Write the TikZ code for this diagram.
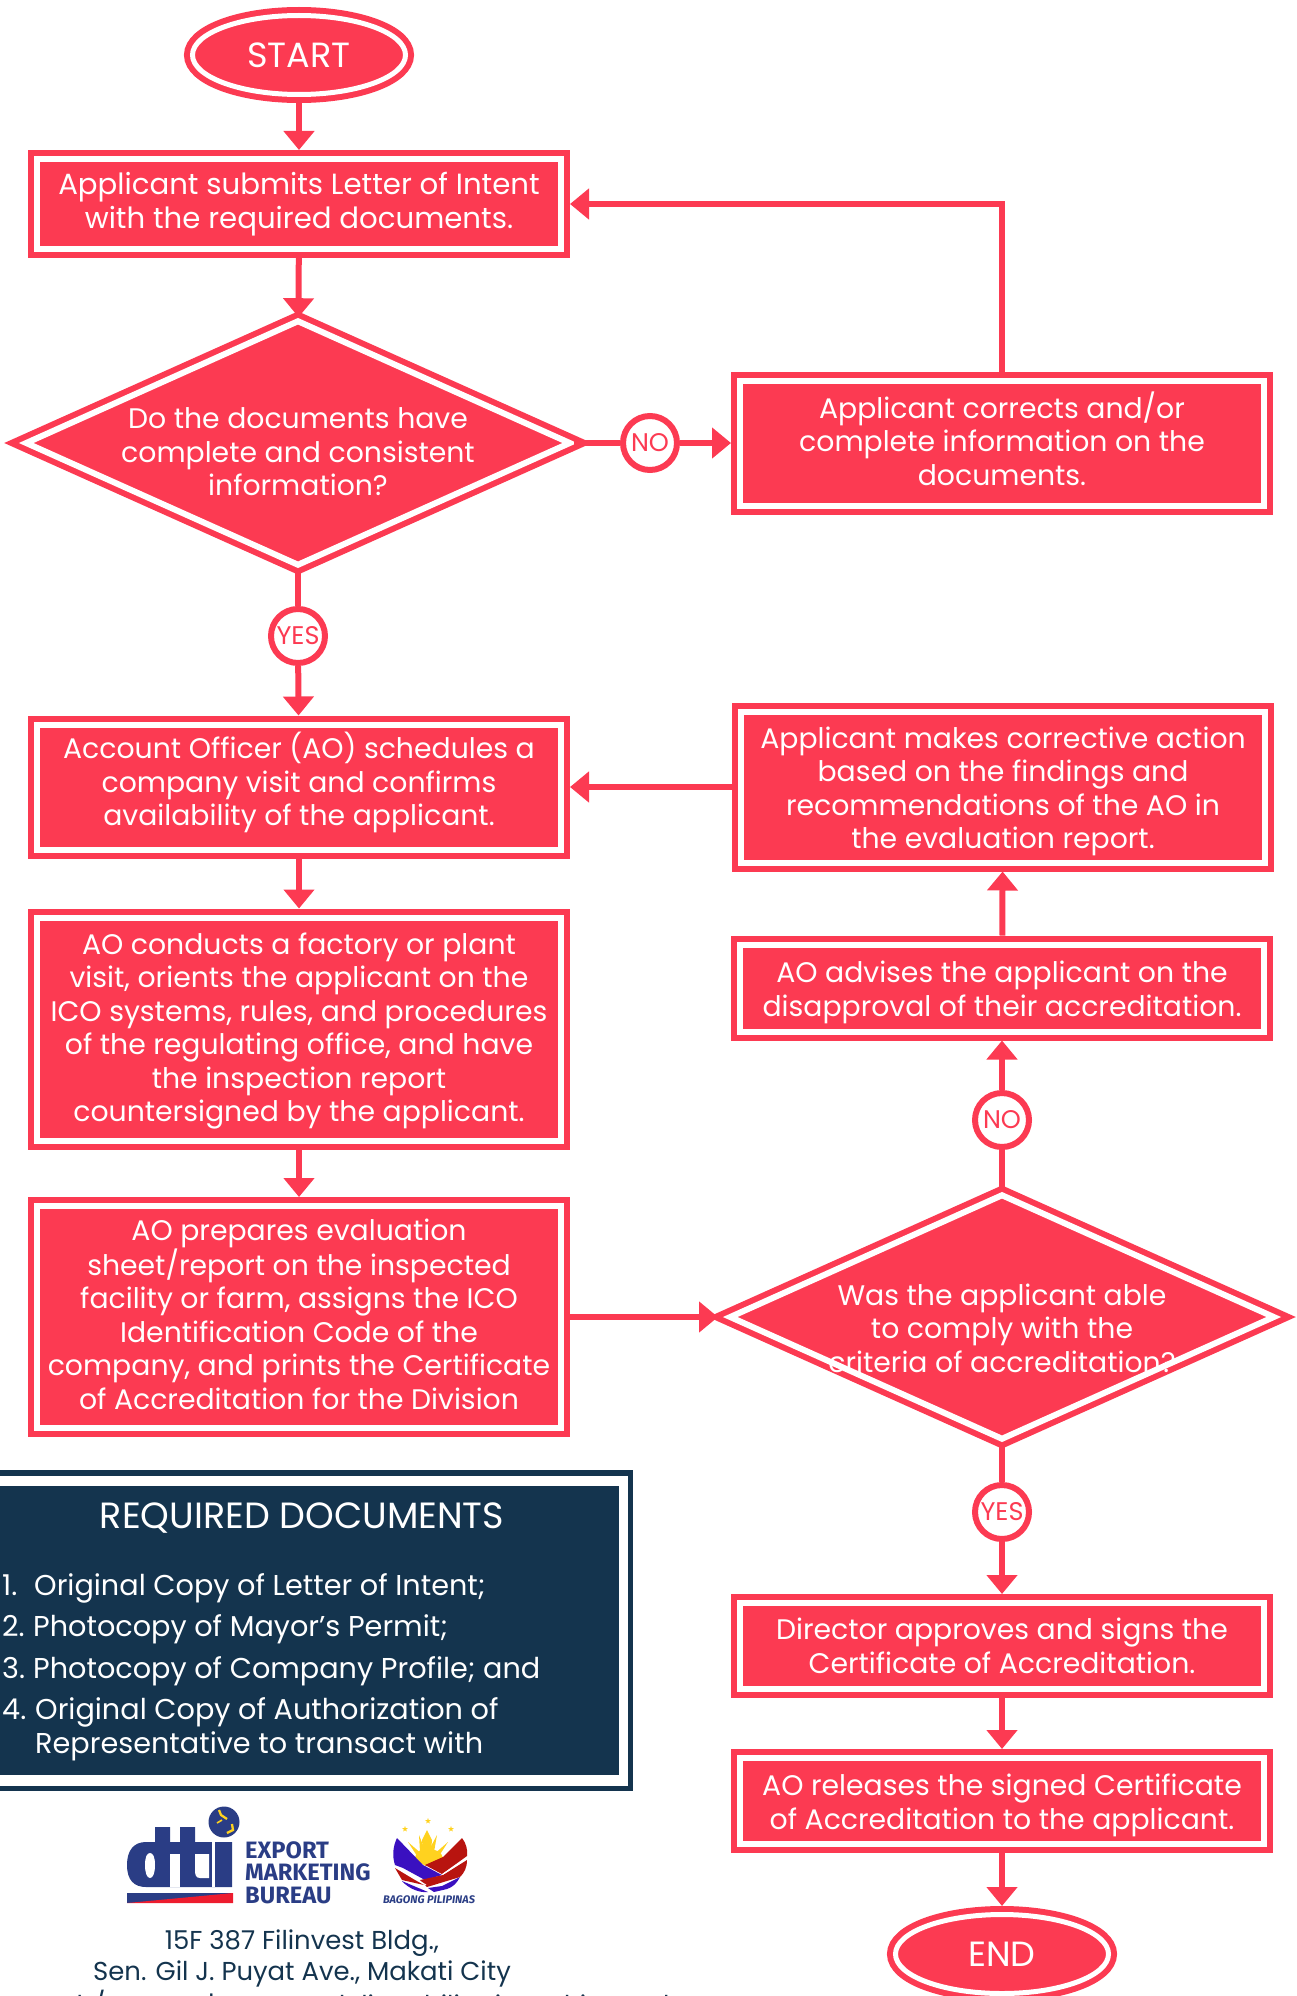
\documentclass[tikz,border=0pt]{standalone}
\usepackage{fontspec}
\setmainfont{Poppins}
\newfontfamily\firabold{Fira Sans}
\usetikzlibrary{shapes.geometric}
\usetikzlibrary{arrows.meta}
\definecolor{rosered}{HTML}{FC3A52}
\definecolor{navybox}{HTML}{14344E}
\definecolor{dtiblue}{HTML}{2A3D85}
\definecolor{dtired}{HTML}{ED1C2E}
\definecolor{sunyellow}{HTML}{FFD21F}
\definecolor{wingblue}{HTML}{3A10C0}
\definecolor{wingred}{HTML}{B8140F}
\newcommand{\liftby}[1]{\rule[-#1]{0pt}{#1}}
\newcommand{\dropby}[1]{\rule{0pt}{#1}}
\tikzset{
	flowtext/.style={text=white, align=center, font=\fontsize{28.3}{33.5}\selectfont},
	stepbox/.style={flowtext, rectangle, draw=rosered, fill=rosered, line width=6pt, double=white, double distance=6pt, outer sep=9pt, inner sep=0pt},
	askdiamond/.style={diamond, draw=rosered, fill=rosered, line width=6pt, double=white, double distance=6pt, outer sep=3pt, inner sep=0pt, minimum width=546pt, minimum height=246pt},
	endcap/.style={flowtext, ellipse, draw=rosered, fill=rosered, line width=6pt, double=white, double distance=5pt, outer sep=8.5pt, inner sep=0pt, minimum width=213pt, minimum height=79pt, font=\fontsize{35}{40}\selectfont},
	answer/.style={circle, draw=rosered, fill=white, text=rosered, line width=6pt, minimum size=54pt, inner sep=0pt, font=\fontsize{25.5}{30}\selectfont},
	flow/.style={draw=rosered, line width=6pt},
	flowarrow/.style={flow, -{Triangle[length=19pt,width=30pt]}},
	doctext/.style={text=white, anchor=base west, inner sep=0pt, font=\fontsize{28.7}{33}\selectfont},
	footer/.style={text=navybox, inner sep=0pt, font=\fontsize{25.9}{30}\selectfont},
	bureau/.style={text=dtiblue, anchor=west, inner sep=0pt, font=\firabold\bfseries\fontsize{23.7}{25}\selectfont}
}
\begin{document}
\begin{tikzpicture}[x=1pt, y=-1pt]
	\useasboundingbox (0,0) rectangle (1296,1996);
	\node[endcap] (start) at (299,55) {START};
	\node[stepbox, font=\fontsize{29.2}{33.5}\selectfont, minimum width=524pt, minimum height=90pt] (submit) at (299,204) {Applicant submits Letter of Intent\\with the required documents.};
	\node[askdiamond, label={[flowtext, name=completetext, yshift=-9pt]center:{Do the documents have\\complete and consistent\\information?}}] (complete) at (298,443) {};
	\node[answer] (no1) at (650,443) {NO};
	\node[stepbox, minimum width=524pt, minimum height=125pt] (corrects) at (1002,443) {Applicant corrects and/or\\complete information on the\\documents.\liftby{9pt}};
	\node[answer] (yes1) at (298,636) {YES};
	\node[stepbox, minimum width=524pt, minimum height=125pt] (visit) at (299,787) {Account Officer (AO) schedules a\\company visit and confirms\\availability of the applicant.\liftby{15.5pt}};
	\node[stepbox, minimum width=524pt, minimum height=223pt] (conducts) at (299,1029) {\dropby{25.5pt}AO conducts a factory or plant\\visit, orients the applicant on the\\ICO systems, rules, and procedures\\of the regulating office, and have\\the inspection report\\countersigned by the applicant.};
	\node[stepbox, minimum width=524pt, minimum height=222pt] (prepares) at (299,1317) {AO prepares evaluation\\sheet/report on the inspected\\facility or farm, assigns the ICO\\Identification Code of the\\company, and prints the Certificate\\of Accreditation for the Division\liftby{6pt}};
	\node[stepbox, minimum width=524pt, minimum height=151pt] (corrective) at (1003,787) {\dropby{30pt}Applicant makes corrective action\\based on the findings and\\recommendations of the AO in\\the evaluation report.};
	\node[stepbox, minimum width=524pt, minimum height=87pt] (advises) at (1002,988) {\dropby{30pt}AO advises the applicant on the\\disapproval of their accreditation.};
	\node[askdiamond, label={[flowtext, name=complytext, yshift=-11pt]center:{Was the applicant able\\to comply with the\\criteria of accreditation?}}] (comply) at (1002,1317) {};
	\node[answer] (no2) at (1002,1120) {NO};
	\node[answer] (yes2) at (1002,1512) {YES};
	\node[stepbox, minimum width=524pt, minimum height=86pt] (approves) at (1002,1646) {Director approves and signs the\\Certificate of Accreditation.};
	\node[stepbox, minimum width=524pt, minimum height=86pt] (releases) at (1002,1801) {\dropby{30pt}AO releases the signed Certificate\\of Accreditation to the applicant.};
	\node[endcap] (finish) at (1002,1954) {END};
	\draw[flowarrow] (start) -- (submit);
	\draw[flowarrow] (submit) -- (complete);
	\draw[flow] (complete.east) -- (no1);
	\draw[flowarrow] (no1) -- (corrects);
	\draw[flowarrow] (corrects.north) |- (submit.east);
	\draw[flow] (complete.south) -- (yes1);
	\draw[flowarrow] (yes1) -- (visit);
	\draw[flowarrow] (corrective.west) -- (visit.east);
	\draw[flowarrow] (visit) -- (conducts);
	\draw[flowarrow] (conducts) -- (prepares);
	\draw[flowarrow, shorten >=8pt] (prepares.east) -- (comply.west);
	\draw[flow] (comply.north) -- (no2);
	\draw[flowarrow] (no2) -- (advises);
	\draw[flowarrow] (advises) -- (corrective);
	\draw[flow] (comply.south) -- (yes2);
	\draw[flowarrow] (yes2) -- (approves);
	\draw[flowarrow] (approves) -- (releases);
	\draw[flowarrow] (releases) -- (finish);
	\fill[navybox] (-20,1470) rectangle (633,1791);
	\fill[white] (-20,1476) rectangle (627.5,1785.5);
	\fill[navybox] (-20,1486) rectangle (619,1775);
	\node[text=white, inner sep=0pt, font=\fontsize{36.5}{40}\selectfont] (docstitle) at (302,1518) {REQUIRED DOCUMENTS};
	\node[doctext] (doc1n) at (2,1595) {1.};
	\node[doctext] (doc1) at (34,1595) {Original Copy of Letter of Intent;};
	\node[doctext] (doc2n) at (2,1636) {2.};
	\node[doctext] (doc2) at (33,1636) {Photocopy of Mayor’s Permit;};
	\node[doctext] (doc3n) at (2,1678) {3.};
	\node[doctext] (doc3) at (33,1678) {Photocopy of Company Profile; and};
	\node[doctext] (doc4n) at (2,1719) {4.};
	\node[doctext] (doc4) at (35,1719) {Original Copy of Authorization of};
	\node[doctext] (doc5) at (35,1753) {Representative to transact with};
	\fill[dtiblue] (127,1893) rectangle (233,1903);
	\fill[dtired] (127,1903) -- (233,1893) -- (233,1903) -- cycle;
	\fill[dtiblue] (127,1865) .. controls (127,1850) and (134,1842) .. (146,1842) -- (155,1842) -- (155,1827) -- (170,1827) -- (170,1842) -- (180,1842) -- (180,1827) -- (195,1827) -- (195,1842) -- (232,1842) -- (232,1887) -- (146,1887) .. controls (134,1887) and (127,1880) .. (127,1865) -- cycle;
	\fill[white] (145,1865) .. controls (145,1857) and (147,1853) .. (150,1853) .. controls (153,1853) and (155,1857) .. (155,1865) .. controls (155,1873) and (153,1878) .. (150,1878) .. controls (147,1878) and (145,1873) .. (145,1865) -- cycle;
	\fill[white] (170,1854) rectangle (180,1887);
	\fill[white] (195,1854) -- (209,1854) -- (209,1878) -- (200,1878) .. controls (196,1878) and (195,1875) .. (195,1870) -- cycle;
	\fill[white] (212,1842) rectangle (215,1887);
	\fill[dtiblue] (224,1822) circle (15.5);
	\draw[sunyellow, line width=2.3pt] (219,1810) -- (221,1815) -- (227,1819);
	\draw[sunyellow, line width=1.6pt] (217,1823) -- (222,1820);
	\draw[sunyellow, line width=2.3pt] (232,1824) -- (233,1830) -- (227,1833);
	\node[bureau] (export) at (245,1850) {EXPORT};
	\node[bureau] (marketing) at (245,1872) {MARKETING};
	\node[bureau] (bureaut) at (245,1895) {BUREAU};
	\foreach \sx/\sy in {428/1821, 405/1829, 451/1829}
		\node[star, star points=5, star point ratio=2.4, fill=sunyellow, inner sep=0pt, minimum size=6pt] (sun\sx) at (\sx,\sy) {};
	\fill[sunyellow] (427,1830) -- (432,1840) -- (431,1852) -- (423,1852) -- (422,1840) -- cycle;
	\fill[sunyellow] (419,1835) -- (425,1850) -- (420,1852) -- cycle;
	\fill[sunyellow] (437,1835) -- (429,1850) -- (434,1852) -- cycle;
	\fill[sunyellow] (408,1842) -- (423,1855) -- (419,1859) -- cycle;
	\fill[sunyellow] (448,1842) -- (433,1855) -- (437,1859) -- cycle;
	\fill[sunyellow] (415,1860) .. controls (415,1851) and (421,1849) .. (428,1849) .. controls (436,1849) and (442,1852) .. (443,1858) -- (426,1866) -- cycle;
	\fill[wingred] (462,1838) .. controls (466,1843) and (468,1850) .. (467,1856) -- (442,1874) -- (425,1865) -- (443,1857) -- cycle;
	\fill[wingblue] (397,1838) -- (423,1865) -- (442,1875) -- (425,1880) -- (403,1868) -- (395,1865) .. controls (392,1856) and (393,1846) .. (397,1838) -- cycle;
	\fill[wingred] (467,1860) .. controls (467,1868) and (464,1873) .. (460,1877) -- (427,1887) -- (420,1880) -- (443,1875) -- cycle;
	\fill[wingred] (395,1868) -- (415,1880) -- (424,1885) -- (402,1880) -- cycle;
	\fill[wingblue] (402,1881) -- (428,1892) .. controls (420,1893) and (409,1889) .. (402,1881) -- cycle;
	\fill[wingblue] (442,1886) -- (460,1877) .. controls (457,1883) and (453,1887) .. (447,1889) -- (434,1892) -- (428,1888) -- cycle;
	\draw[white, line width=1.1pt] (467,1858) -- (443,1874);
	\draw[white, line width=1pt] (394,1866) -- (426,1885);
	\node[text=dtiblue, inner sep=0pt, font=\firabold\bfseries\itshape\fontsize{11}{12}\selectfont] (bagong) at (429,1900) {BAGONG PILIPINAS};
	\node[footer] (addr1) at (302,1943) {15F 387 Filinvest Bldg.,};
	\node[footer] (addr2) at (302,1974) {Sen. Gil J. Puyat Ave., Makati City};
	\node[footer, anchor=east] (addr3) at (680,2006) {www.dti.gov.ph/exports | www.tradelinephilippines.dti.gov.ph};
\end{tikzpicture}
\end{document}
